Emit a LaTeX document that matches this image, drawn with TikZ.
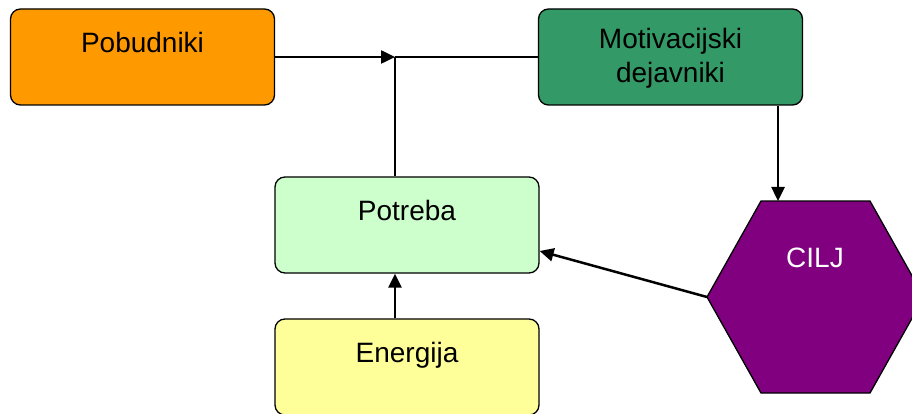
\documentclass[tikz,border=0pt]{standalone}
\usepackage{fontspec}
\setmainfont{Liberation Sans}
\usetikzlibrary{arrows.meta}
\definecolor{orangeC}{HTML}{FF9900}
\definecolor{greenC}{HTML}{339966}
\definecolor{lgreenC}{HTML}{CCFFCC}
\definecolor{yellowC}{HTML}{FFFF99}
\definecolor{purpleC}{HTML}{800080}
\begin{document}
\begin{tikzpicture}[x=1pt,y=-1pt,
  boxnode/.style={draw=black,line width=1.3pt,rounded corners=10pt,minimum width=264pt,minimum height=96pt,inner sep=0pt},
  txt/.style={font=\fontsize{28}{34}\selectfont,inner sep=0pt,align=center},
  conn/.style={line width=2.5pt,-{Triangle[length=14pt,width=13pt]}},
  thin/.style={line width=1.5pt}]
\useasboundingbox (0,0) rectangle (912,414);
\clip (0,0) rectangle (912,414);
\node[boxnode,fill=orangeC] (pob) at (142.5,57) {};
\node[txt] (pobt) at (142.5,42) {Pobudniki};
\node[boxnode,fill=greenC] (mot) at (670.5,57) {};
\node[txt] (mott) at (670.5,58) {Motivacijski\\dejavniki};
\node[boxnode,fill=lgreenC] (pot) at (407,225) {};
\node[txt] (pott) at (407,210) {Potreba};
\node[boxnode,fill=yellowC] (ene) at (407,367) {};
\node[txt] (enet) at (407,355) {Energija};
\coordinate (h1) at (761,201);
\coordinate (h2) at (870,201);
\coordinate (h3) at (924,297);
\coordinate (h4) at (870,393);
\coordinate (h5) at (761,393);
\coordinate (h6) at (707,297);
\draw[fill=purpleC,line width=1.3pt] (h1) -- (h2) -- (h3) -- (h4) -- (h5) -- (h6) -- cycle;
\node[txt,text=white] (cilj) at (815,258) {CILJ};
\coordinate (J) at (395,57);
\coordinate (htop) at (778,201);
\coordinate (pr) at (pot.east |- 0,251);
\draw[thin] (J) -- (mot.west);
\draw[thin] (J) -- (pot.north -| J);
\draw[conn] (pob.east) -- (J);
\draw[conn] (mot.south -| htop) -- (htop);
\draw[conn] (h6) -- (pr);
\draw[conn] (ene.north -| J) -- (pot.south -| J);
\end{tikzpicture}
\end{document}
